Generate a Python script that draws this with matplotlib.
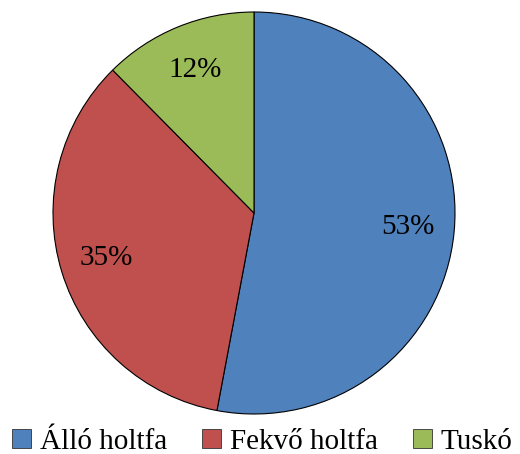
import matplotlib
matplotlib.use("Agg")
import matplotlib.pyplot as plt
from matplotlib.patches import Patch

categories = ["Álló holtfa", "Fekvő holtfa", "Tuskó"]
values = [52.9, 34.6, 12.4]
colors = ["#4F81BD", "#C0504D", "#9BBB59"]

plt.rcParams['font.family'] = ['Liberation Serif', 'DejaVu Serif']

W, H = 520, 454
fig = plt.figure(figsize=(W/100, H/100), dpi=100)
cx, cy, r = 254, 213, 201
ax = fig.add_axes([(cx - r)/W, (H - cy - r)/H, 2*r/W, 2*r/H])
wedges, texts, autotexts = ax.pie(values, colors=colors, startangle=90, counterclock=False,
       radius=1.0, autopct=lambda p: f"{p:.0f}%", pctdistance=0.77,
       wedgeprops=dict(edgecolor='black', linewidth=0.8),
       textprops=dict(fontsize=21, color='black'))
ax.set_xlim(-1.0, 1.0)
ax.set_ylim(-1.0, 1.0)
ax.set_aspect('equal')
ax.axis('off')

handles = [Patch(facecolor=c, edgecolor='#333333', linewidth=0.6) for c in colors]
fig.legend(handles, categories, loc='lower center', bbox_to_anchor=(0.505, -0.06), ncol=3,
           frameon=False, fontsize=21, handlelength=0.65, handleheight=0.65,
           handletextpad=0.3, columnspacing=1.2)
fig.savefig("out.png", dpi=100)
